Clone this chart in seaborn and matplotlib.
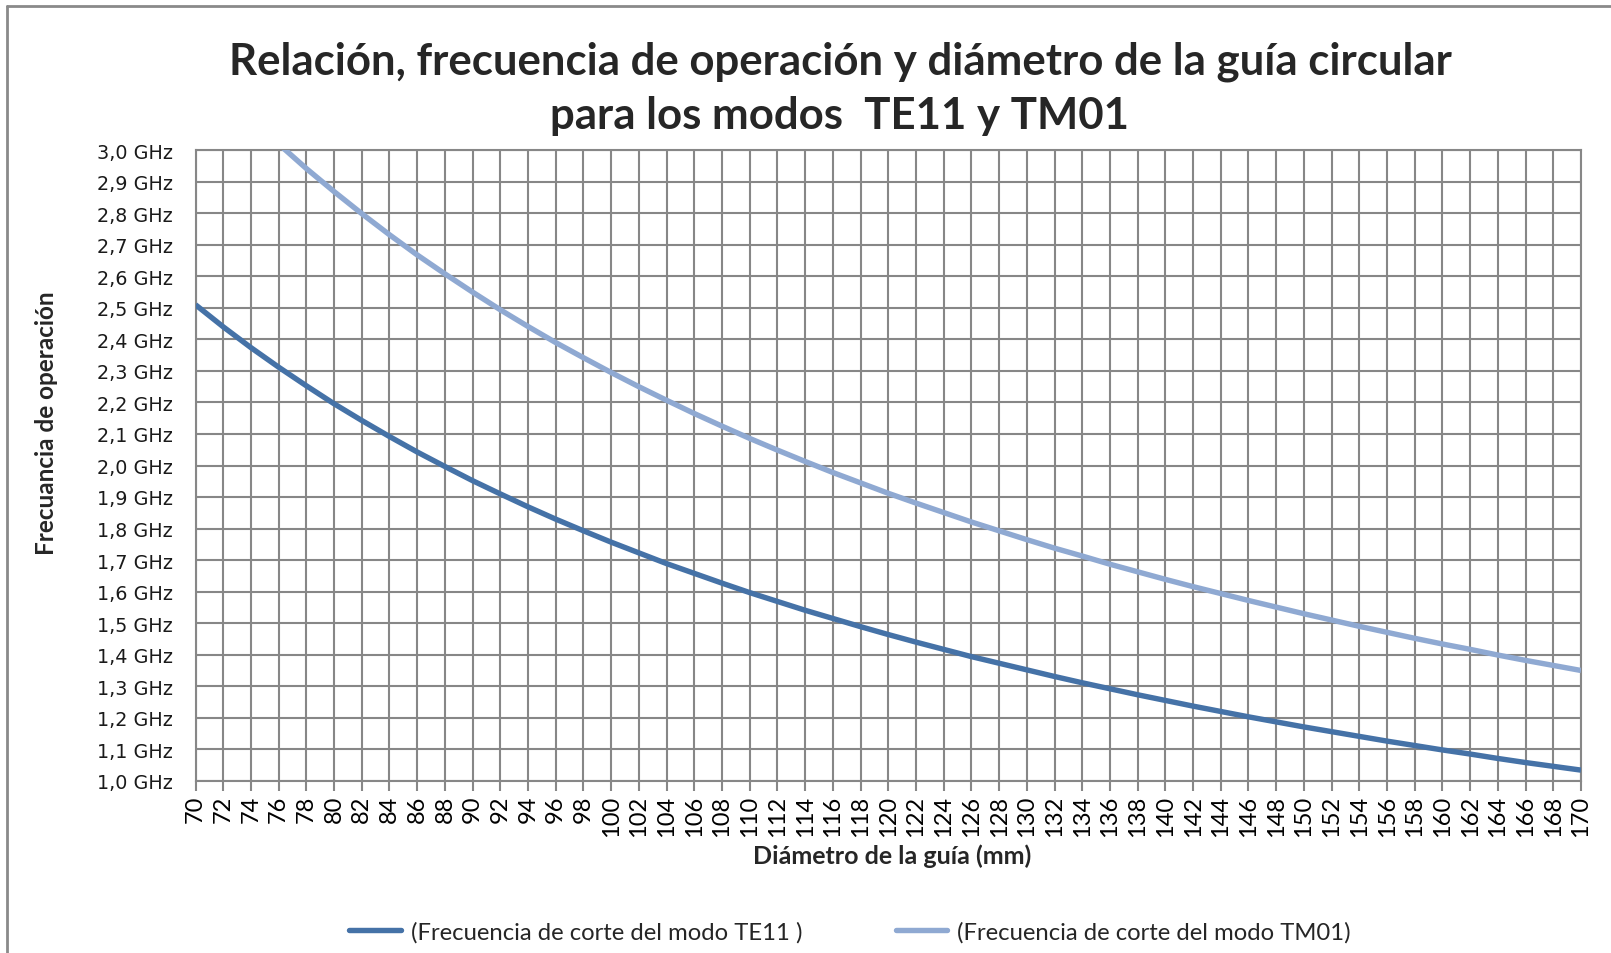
import matplotlib
matplotlib.use("Agg")
import matplotlib.pyplot as plt
from matplotlib.lines import Line2D
from matplotlib.ticker import FixedLocator, FuncFormatter
import seaborn as sns
import pandas as pd

# Guide diameter (mm)
diametro_mm = [70, 72, 74, 76, 78, 80, 82, 84, 86, 88, 90, 92, 94, 96, 98, 100,
               102, 104, 106, 108, 110, 112, 114, 116, 118, 120, 122, 124, 126,
               128, 130, 132, 134, 136, 138, 140, 142, 144, 146, 148, 150, 152,
               154, 156, 158, 160, 162, 164, 166, 168, 170]

# Cut-off frequency, TE11 mode (GHz)
fc_te11 = [2.510, 2.440, 2.374, 2.312, 2.253, 2.196, 2.143, 2.092, 2.043, 1.997,
           1.952, 1.910, 1.869, 1.830, 1.793, 1.757, 1.723, 1.689, 1.658, 1.627,
           1.597, 1.569, 1.541, 1.515, 1.489, 1.464, 1.440, 1.417, 1.394, 1.373,
           1.352, 1.331, 1.311, 1.292, 1.273, 1.255, 1.237, 1.220, 1.203, 1.187,
           1.171, 1.156, 1.141, 1.126, 1.112, 1.098, 1.085, 1.071, 1.058, 1.046,
           1.034]

# Cut-off frequency, TM01 mode (GHz)
fc_tm01 = [3.278, 3.187, 3.101, 3.020, 2.942, 2.869, 2.799, 2.732, 2.668, 2.608,
           2.550, 2.494, 2.441, 2.390, 2.342, 2.295, 2.250, 2.207, 2.165, 2.125,
           2.086, 2.049, 2.013, 1.978, 1.945, 1.912, 1.881, 1.851, 1.821, 1.793,
           1.765, 1.738, 1.713, 1.687, 1.663, 1.639, 1.616, 1.594, 1.572, 1.551,
           1.530, 1.510, 1.490, 1.471, 1.452, 1.434, 1.417, 1.399, 1.382, 1.366,
           1.350]

serie_te11 = "(Frecuencia de corte del modo TE11 )"
serie_tm01 = "(Frecuencia de corte del modo TM01)"

x_ticks = list(range(70, 171, 2))
y_ticks = [1.0, 1.1, 1.2, 1.3, 1.4, 1.5, 1.6, 1.7, 1.8, 1.9, 2.0,
           2.1, 2.2, 2.3, 2.4, 2.5, 2.6, 2.7, 2.8, 2.9, 3.0]

titulo = "Relación, frecuencia de operación y diámetro de la guía circular\npara los modos  TE11 y TM01"
etiqueta_x = "Diámetro de la guía (mm)"
etiqueta_y = "Frecuancia de operación"

df = pd.DataFrame({
    "diametro": diametro_mm * 2,
    "frecuencia": fc_te11 + fc_tm01,
    "modo": [serie_te11] * len(diametro_mm) + [serie_tm01] * len(diametro_mm),
})

sns.set_style("white")
plt.rcParams["font.family"] = ["Lato", "DejaVu Sans"]

W, H = 1611, 953
fig = plt.figure(figsize=(W / 100, (H + 0.9) / 100), dpi=100)
ax = fig.add_axes([195.5 / W, 1 - 781 / H, (1581 - 195.5) / W, (781 - 151) / H])

colores = {serie_te11: "#4572a7", serie_tm01: "#8fa9d2"}
sns.lineplot(data=df, x="diametro", y="frecuencia", hue="modo",
             palette=colores, linewidth=3.9, ax=ax, legend=False,
             solid_capstyle="butt", zorder=3)

grid_color = "#878787"
ax.set_xlim(70, 170)
ax.set_ylim(1.0, 3.0)
ax.xaxis.set_major_locator(FixedLocator(x_ticks))
ax.yaxis.set_major_locator(FixedLocator(y_ticks))
ax.yaxis.set_major_formatter(FuncFormatter(lambda v, p: f"{v:.1f}".replace(".", ",") + " GHz"))
ax.grid(True, color=grid_color, linewidth=1.5)
ax.set_axisbelow(True)
for s in ax.spines.values():
    s.set_color(grid_color)
    s.set_linewidth(1.5)

ax.tick_params(axis="x", which="major", length=7, width=1.5, color=grid_color,
               direction="out", bottom=True, labelrotation=90, labelsize=17, pad=3)
ax.tick_params(axis="y", which="major", length=0, labelsize=13.8, pad=16.5)
for lbl in ax.get_yticklabels():
    lbl.set_fontfamily("DejaVu Sans")
    lbl.set_color("#1a1a1a")
for lbl in ax.get_xticklabels():
    lbl.set_color("#000000")

ax.set_xlabel("")
ax.set_ylabel("")

fig.text(840 / W, 1 - 89 / H, titulo, ha="center", va="center",
         fontsize=31.5, fontweight="bold", linespacing=1.42)
fig.text(868 / 1568, 1 - 855 / H, etiqueta_x, ha="center", va="center",
         fontsize=18, fontweight="bold")
fig.text(47 / W, 1 - 423 / H, etiqueta_y, ha="center", va="center",
         fontsize=17.5, fontweight="bold", rotation=90)

handles = [Line2D([], [], color=colores[serie_te11], linewidth=3.9),
           Line2D([], [], color=colores[serie_tm01], linewidth=3.9)]
fig.legend(handles, [serie_te11, serie_tm01], loc="center",
           bbox_to_anchor=(850 / W, 1 - 932 / H), ncol=2, frameon=False,
           fontsize=17.2, handlelength=2.16, handletextpad=0.42, columnspacing=3.9)

# chart-area frame (left and top edges)
fig.add_artist(Line2D([7 / W, 7 / W], [0, 1 - 7 / H], transform=fig.transFigure,
                      color="#8a8a8a", linewidth=2))
fig.add_artist(Line2D([7 / W, 1], [1 - 7 / H, 1 - 7 / H], transform=fig.transFigure,
                      color="#8a8a8a", linewidth=2))

fig.savefig("out.png", dpi=100, facecolor="white")
